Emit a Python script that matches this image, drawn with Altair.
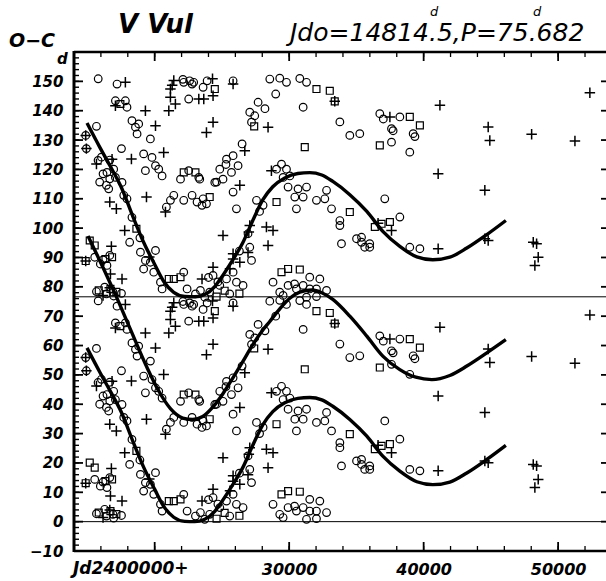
import altair as alt
import pandas as pd

# ---------------- values ----------------
P = 75.682              # period, from the header text
LINE_LEVEL = 76.6       # level of the thin horizontal line / offset of the upper curve (as drawn)
POINT_SHIFT = 75.682    # data are repeated one period higher

X_DOMAIN = [14000, 53560]
Y_DOMAIN = [-10, 160]

# open circles (JD-2400000, O-C in days)
circ_jd = [14870, 15670, 14920, 15790, 16040, 16660, 15910, 16410, 16160, 16660, 17530, 18140,
           15540, 16160, 16660, 15960, 16450, 15670, 16280, 16410, 16900, 17530, 16950, 16450,
           16950, 17080, 17570, 17700, 17940, 16580, 18940, 20060, 19310, 19680, 19180, 19930,
           20430, 20550, 22160, 22410, 23030, 23400, 23720, 21170, 21420, 22160, 22780, 23150,
           23520, 20870, 18310, 18900, 17200, 17080, 17820, 17940, 22530, 22160, 22780, 18310,
           18570, 18810, 18690, 19680, 19180, 19800, 20060, 20300, 20550, 19310, 21920, 22530,
           23280, 23600, 23850, 25830, 26080, 26940, 27070, 27200, 24340, 24000, 25340, 25830,
           24840, 24090, 25580, 26570, 26080, 24700, 26300, 27800, 29920, 30660, 31290, 30420,
           31040, 32030, 32780, 30540, 33150, 32650, 27570, 28060, 28800, 29300, 29920, 30540,
           31040, 31530, 32030, 32780, 29550, 31290, 32030, 30400, 33770, 33770, 33890, 28560,
           29300, 29800, 30790, 31290, 31040, 27690, 27070, 27440, 27200, 33770, 25340, 25830,
           26200, 25710, 24840, 25080, 24470, 29060, 29430, 29800, 29550, 30050, 23350, 23600,
           24600, 25300, 26500, 28200, 29000, 34510, 35250, 36740, 38230, 37610, 37730, 39220,
           39350, 37000, 37610, 38970, 37110, 38230, 35010, 35380, 35620, 35990, 35990, 35380,
           38970, 39720, 31530, 32280, 22100, 22600, 22900, 23900, 25830, 15800]
circ_oc = [55.9, 59.0, 51.4, 47.4, 48.5, 47.5, 40.0, 38.9, 42.8, 41.1, 51.4, 19.5,
           14.4, 13.5, 15.0, 12.1, 11.6, 2.7, 4.2, 1.9, 2.5, 2.1, 1.2, 43.3,
           44.4, 41.6, 39.9, 35.5, 34.3, 37.7, 16.1, 16.7, 13.3, 12.7, 10.4, 9.3,
           5.9, 3.6, 9.3, 3.6, 1.9, 3.1, 0.8, 33.8, 35.5, 33.8, 35.5, 33.2,
           32.1, 31.5, 28.0, 21.0, 73.4, 67.7, 67.7, 65.5, 68.3, 74.0, 73.4, 60.9,
           58.7, 59.8, 56.4, 54.7, 49.6, 48.4, 45.6, 44.4, 42.1, 43.9, 41.0, 43.9,
           41.6, 34.3, 32.6, 36.6, 30.9, 22.4, 17.8, 13.3, 8.2, 7.5, 7.0, 9.3,
           4.8, 2.5, 1.9, 4.8, 5.9, 6.0, 16.5, 30.0, 38.3, 37.7, 38.3, 34.9,
           34.9, 33.8, 37.2, 30.9, 30.9, 34.3, 33.8, 32.1, 5.9, 2.5, 4.8, 3.6,
           4.8, 3.6, 3.6, 3.1, 1.4, 0.8, 1.0, 5.3, 26.9, 25.2, 19.0, 75.1,
           75.4, 74.0, 75.3, 74.0, 65.5, 67.2, 63.8, 62.6, 60.4, 60.5, 47.8, 49.0,
           45.6, 43.3, 44.4, 41.0, 39.9, 44.4, 46.1, 44.4, 41.6, 42.1, 41.0, 72.3,
           40.0, 46.0, 53.0, 65.0, 70.0, 55.9, 56.5, 63.3, 62.2, 58.2, 57.5, 56.5,
           55.5, 61.5, 53.6, 50.2, 34.3, 28.1, 20.7, 21.2, 17.8, 17.8, 19.0, 19.5,
           17.8, 17.3, 7.6, 7.0, 75.0, 74.5, 74.0, 74.5, 74.5, 75.2]

# open squares
sq_jd = [18640, 15170, 15540, 14870, 16340, 16830, 15840, 16710, 17150, 21050, 21420, 21920,
         17450, 22160, 23030, 24090, 24600, 25200, 26300, 29060, 29430, 29920, 30790, 32030,
         33020, 33390, 24470, 31160, 27400, 38970, 39720, 36740, 34510, 37490, 36870, 36370]
sq_oc = [24.1, 20.1, 18.4, 13.1, 13.8, 14.4, 3.1, 3.6, 2.6, 7.0, 7.0, 7.6,
         66.6, 43.3, 43.3, 34.9, 1.0, 3.0, 2.0, 33.2, 9.3, 10.4, 10.2, 71.7,
         71.1, 67.5, 71.7, 51.9, 59.0, 62.2, 59.3, 52.5, 29.8, 26.4, 25.8, 24.7]

# plus signs
plus_jd = [14870, 14920, 15670, 16660, 17150, 18270, 19390, 17770, 16780, 14870, 16710, 17570,
           16660, 16160, 16830, 19600, 17820, 17080, 19310, 21050, 21170, 21170, 21540, 23280,
           23650, 21420, 20060, 20670, 20800, 23520, 26330, 25080, 27070, 28310, 28800, 28430,
           25830, 26940, 24340, 25830, 26330, 25600, 27000, 33390, 28430, 24340, 23850, 26700,
           28680, 24340, 25830, 37490, 41210, 41080, 44800, 44920, 44550, 48030, 51250, 52360,
           36610, 37610, 41080, 44550, 44800, 48150, 48400, 48520, 48270, 21300, 24300]
plus_oc = [55.9, 51.4, 46.2, 33.2, 30.9, 47.9, 34.9, 23.5, 18.1, 13.1, 8.7, 7.0,
           4.0, 1.4, 47.8, 14.5, 74.0, 66.0, 64.3, 64.3, 68.9, 71.7, 66.6, 68.3,
           68.3, 74.6, 59.2, 50.1, 29.8, 7.0, 38.9, 21.8, 25.2, 24.7, 23.5, 18.4,
           15.6, 16.0, 11.0, 13.8, 12.7, 10.5, 23.0, 67.5, 58.7, 60.4, 56.9, 50.7,
           43.9, 69.4, 73.4, 62.2, 66.2, 42.8, 58.8, 54.2, 37.2, 56.3, 54.0, 70.4,
           26.0, 23.5, 17.3, 20.7, 20.1, 19.5, 19.0, 14.4, 11.6, 73.0, 75.2]

# fitted curves
low_jd = [14967, 15912, 16656, 17548, 18367, 19185, 20003, 20673, 21417, 22235, 22979, 23723,
          24467, 24839, 25806, 26550, 27294, 28037, 28781, 29674, 30641, 31534, 32426, 33245,
          34510, 35774, 36964, 38229, 39493, 40683, 41948, 43212, 44700, 46114]
low_oc = [59.2, 51.0, 44.8, 37.0, 27.5, 18.5, 11.0, 5.2, 1.5, 0.1, 0.0, 0.8,
          3.5, 5.8, 12.6, 18.4, 26.0, 33.0, 37.5, 40.5, 42.0, 42.3, 41.5, 39.3,
          34.8, 29.1, 22.3, 17.2, 13.6, 12.6, 13.5, 16.6, 21.2, 26.0]
mid_jd = [15041, 15912, 17065, 18196, 19430, 20301, 21171, 22086, 22830, 23574, 24318, 25062,
          25806, 26550, 27294, 27963, 28558, 29302, 30046, 30790, 31683, 32426, 33245, 34510,
          35774, 36964, 38229, 39419, 40609, 41948, 43212, 44700, 46114]
mid_oc = [97.3, 89.0, 77.5, 65.5, 52.5, 44.5, 38.5, 35.3, 34.8, 35.8, 39.0, 43.5,
          48.9, 54.5, 60.3, 64.8, 68.2, 72.5, 76.1, 78.2, 78.9, 78.0, 75.7, 70.0,
          63.2, 56.4, 51.8, 49.2, 48.4, 49.8, 53.0, 57.5, 62.0]

# axis ticks / labels
Y_LABELS = list(range(-10, 151, 10))
Y_MAJOR = list(range(-10, 161, 10))
Y_MINOR = list(range(-10, 161, 2))
X_LABELS = [30000, 40000, 50000]
X_MAJOR = [20000, 30000, 40000, 50000]
X_MINOR = list(range(14000, 53001, 2000))

# ---------------- tables ----------------
def points(jd, oc, kind):
    rows = []
    for j, v in zip(jd, oc):
        for k in (0, 1):
            rows.append({"jd": j, "oc": v + k * POINT_SHIFT, "kind": kind})
    return rows

pts = pd.DataFrame(points(circ_jd, circ_oc, "c") + points(sq_jd, sq_oc, "s") + points(plus_jd, plus_oc, "p"))
pts = pts[(pts.oc >= Y_DOMAIN[0]) & (pts.oc <= Y_DOMAIN[1])]

curves = pd.concat([
    pd.DataFrame({"jd": low_jd, "oc": low_oc, "curve": "lower"}),
    pd.DataFrame({"jd": mid_jd, "oc": mid_oc, "curve": "middle"}),
    pd.DataFrame({"jd": low_jd, "oc": [v + LINE_LEVEL for v in low_oc], "curve": "upper"}),
])
levels = pd.DataFrame({"oc": [0, LINE_LEVEL]})

W, H = 532, 499
FONT = "DejaVu Sans"

xscale = alt.Scale(domain=X_DOMAIN, nice=False, zero=False)
yscale = alt.Scale(domain=Y_DOMAIN, nice=False, zero=False)
xaxis = alt.Axis(values=X_LABELS, ticks=False, domain=False, grid=False, title=None, format="d",
                 labelFont=FONT, labelFontSize=16, labelFontStyle="italic", labelFontWeight="bold",
                 labelColor="black", labelPadding=10, labelFlush=False)
yaxis = alt.Axis(values=Y_LABELS, ticks=False, domain=False, grid=False, title=None, format="d",
                 labelFont=FONT, labelFontSize=15, labelFontStyle="italic", labelFontWeight="bold",
                 labelColor="black", labelPadding=11)

def X(field="jd"):
    return alt.X(f"{field}:Q", scale=xscale, axis=xaxis)

def Y(field="oc"):
    return alt.Y(f"{field}:Q", scale=yscale, axis=yaxis)

base = alt.Chart(pts)
circles = base.transform_filter(alt.datum.kind == "c").mark_point(
    shape="circle", filled=False, color="black", size=58, strokeWidth=1.2, opacity=1).encode(x=X(), y=Y())
squares = base.transform_filter(alt.datum.kind == "s").mark_point(
    shape="square", filled=False, color="black", size=48, strokeWidth=1.2, opacity=1).encode(x=X(), y=Y())
pluses = base.transform_filter(alt.datum.kind == "p").mark_point(
    shape="M-1,0L1,0M0,-1L0,1", filled=False, color="black", size=110, strokeWidth=1.5, opacity=1).encode(x=X(), y=Y())

lines = alt.Chart(curves).mark_line(color="black", strokeWidth=3.4, interpolate="monotone").encode(
    x=X(), y=Y(), detail="curve:N")
hlines = alt.Chart(levels).mark_rule(color="black", strokeWidth=1).encode(y=Y())

def df(vals):
    return pd.DataFrame({"t": vals})

yt_minor = alt.Chart(df(Y_MINOR)).mark_rule(color="black", strokeWidth=1.4).encode(
    y=Y("t"), x=alt.value(0), x2=alt.value(5))
yt_major = alt.Chart(df(Y_MAJOR)).mark_rule(color="black", strokeWidth=1.8).encode(
    y=Y("t"), x=alt.value(0), x2=alt.value(9))
yt_right = alt.Chart(df(Y_MAJOR)).mark_rule(color="black", strokeWidth=1.8).encode(
    y=Y("t"), x=alt.value(W - 5), x2=alt.value(W))
xt_top_minor = alt.Chart(df(X_MINOR)).mark_rule(color="black", strokeWidth=1.3).encode(
    x=X("t"), y=alt.value(0), y2=alt.value(5))
xt_top_major = alt.Chart(df(X_MAJOR)).mark_rule(color="black", strokeWidth=1.8).encode(
    x=X("t"), y=alt.value(0), y2=alt.value(9))
xt_bot_minor = alt.Chart(df(X_MINOR)).mark_rule(color="black", strokeWidth=1.3).encode(
    x=X("t"), y=alt.value(H), y2=alt.value(H - 5))
xt_bot_major = alt.Chart(df(X_MAJOR)).mark_rule(color="black", strokeWidth=1.8).encode(
    x=X("t"), y=alt.value(H), y2=alt.value(H - 9))

one = pd.DataFrame({"a": [0]})
frame_left = alt.Chart(one).mark_rule(color="black", strokeWidth=3).encode(
    x=alt.value(0), y=alt.value(-1), y2=alt.value(H + 1))
frame_top = alt.Chart(one).mark_rule(color="black", strokeWidth=2.5).encode(
    x=alt.value(0), x2=alt.value(W), y=alt.value(0))
frame_bot = alt.Chart(one).mark_rule(color="black", strokeWidth=2.5).encode(
    x=alt.value(0), x2=alt.value(W), y=alt.value(H))

def label(text, x, y, size, weight="normal", style="italic", align="left"):
    return alt.Chart(one).mark_text(align=align, baseline="alphabetic", font=FONT, fontSize=size,
                                    fontWeight=weight, fontStyle=style, color="black").encode(
        x=alt.value(x), y=alt.value(y), text=alt.value(text))

OX, OY = 74, 52
t_oc = label("O\u2212C", 9 - OX, 47 - OY, 19, "bold")
t_star = label("V Vul", 118 - OX, 33 - OY, 26, "bold")
t_elem = label("Jdo=14814.5,P=75.682", 290 - OX, 41 - OY, 25)
t_d1 = label("d", 430 - OX, 16 - OY, 13)
t_d2 = label("d", 533 - OX, 16 - OY, 13)
t_unit = label("d", 57 - OX, 64 - OY, 15, "bold")
t_jd = label("Jd2400000+", 73 - OX, 574 - OY, 17, "bold")

chart = alt.layer(
    hlines, lines, circles, squares, pluses,
    yt_minor, yt_major, yt_right, xt_top_minor, xt_top_major, xt_bot_minor, xt_bot_major,
    frame_left, frame_top, frame_bot,
    t_oc, t_star, t_elem, t_d1, t_d2, t_unit, t_jd,
).properties(
    width=W, height=H,
    autosize=alt.AutoSizeParams(type="none"),
    padding={"left": OX, "top": OY, "right": 0, "bottom": 581 - OY - H},
    background="white",
).configure_view(stroke=None)

chart.save("out.html", embed_options={"renderer": "svg", "actions": False})
